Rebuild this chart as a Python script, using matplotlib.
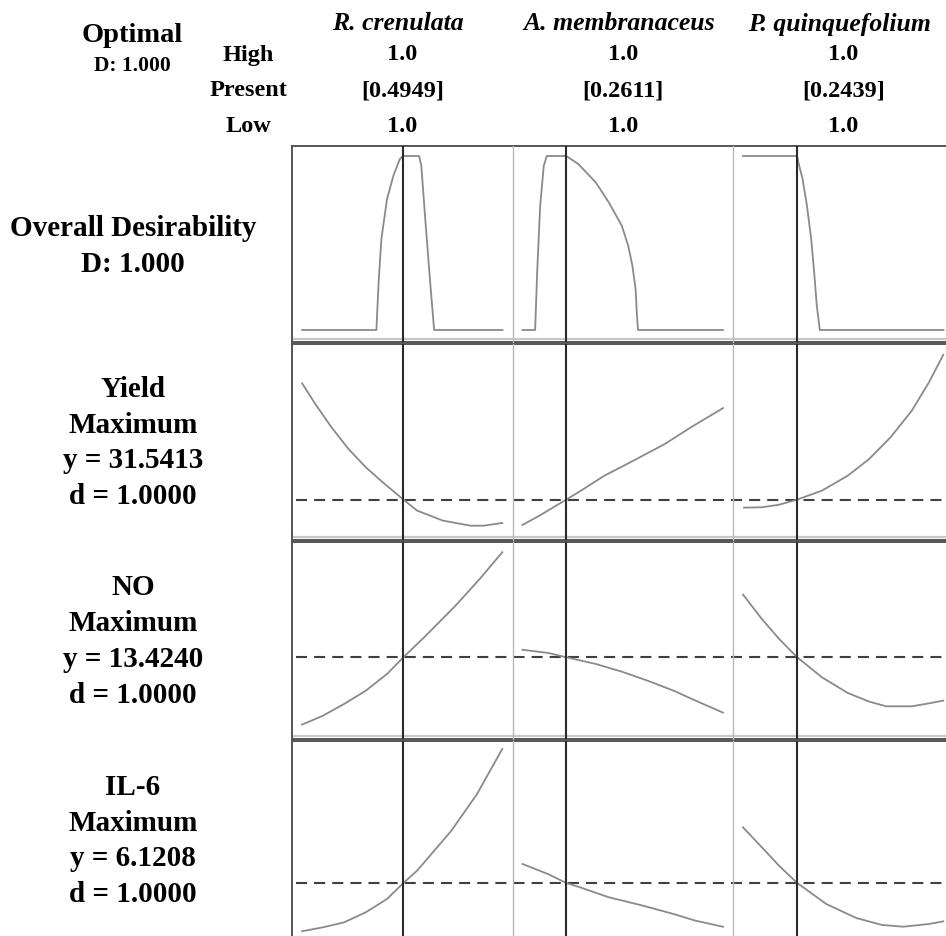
import matplotlib.pyplot as plt

plt.rcParams['font.family'] = ['Liberation Serif', 'DejaVu Serif']

# factors (columns) and their settings
factors = ['R. crenulata', 'A. membranaceus', 'P. quinquefolium']
high_labels = ['1.0', '1.0', '1.0']
present_labels = ['[0.4949]', '[0.2611]', '[0.2439]']
low_labels = ['1.0', '1.0', '1.0']
present_pos = [0.506, 0.218, 0.27]   # coded position of the current setting

# responses (rows 2-4)
responses = ['Yield', 'NO', 'IL-6']
goals = ['Maximum', 'Maximum', 'Maximum']
y_values = ['31.5413', '13.4240', '6.1208']
d_values = ['1.0000', '1.0000', '1.0000']
present_level = [0.206, 0.415, 0.283]   # response at current setting (scaled)

# overall desirability curves
des_x = [[0, 0.371, 0.382, 0.396, 0.424, 0.456, 0.488, 0.503, 0.584, 0.595, 0.616, 0.638, 0.659, 1.0],
         [0, 0.063, 0.073, 0.088, 0.106, 0.121, 0.218, 0.278, 0.365, 0.43, 0.495, 0.527, 0.548, 0.564, 0.570, 0.576, 1.0],
         [0, 0.27, 0.276, 0.297, 0.319, 0.34, 0.355, 0.368, 0.383, 1.0]]
des_y = [[0, 0, 0.274, 0.523, 0.753, 0.887, 0.983, 1, 1, 0.944, 0.62, 0.293, 0, 0],
         [0, 0, 0.331, 0.714, 0.944, 1, 1, 0.954, 0.849, 0.734, 0.6, 0.485, 0.37, 0.236, 0.1, 0, 0],
         [1, 1, 0.964, 0.868, 0.714, 0.523, 0.331, 0.14, 0, 0]]

# response curves (scaled to panel height)
yield_x = [[0.001, 0.061, 0.147, 0.232, 0.318, 0.403, 0.506, 0.574, 0.702, 0.841, 0.905, 0.999],
           [0, 0.084, 0.218, 0.278, 0.408, 0.537, 0.710, 0.840, 1.0],
           [0.005, 0.094, 0.18, 0.27, 0.394, 0.522, 0.629, 0.736, 0.842, 0.928, 0.999]]
yield_y = [[0.799, 0.702, 0.575, 0.464, 0.371, 0.294, 0.206, 0.150, 0.099, 0.073, 0.073, 0.087],
           [0.077, 0.124, 0.206, 0.243, 0.328, 0.396, 0.490, 0.575, 0.673],
           [0.165, 0.167, 0.18, 0.206, 0.252, 0.328, 0.413, 0.524, 0.66, 0.805, 0.945]]

no_x = [[0, 0.104, 0.21, 0.318, 0.424, 0.506, 0.617, 0.766, 0.894, 0.999],
        [0, 0.127, 0.218, 0.365, 0.495, 0.624, 0.754, 0.883, 1.0],
        [0, 0.094, 0.18, 0.27, 0.394, 0.522, 0.629, 0.714, 0.842, 0.928, 0.999]]
no_y = [[0.073, 0.118, 0.178, 0.245, 0.33, 0.415, 0.524, 0.677, 0.821, 0.948],
        [0.453, 0.437, 0.415, 0.381, 0.342, 0.296, 0.245, 0.186, 0.134],
        [0.733, 0.609, 0.508, 0.415, 0.313, 0.234, 0.19, 0.166, 0.166, 0.181, 0.195]]

il6_x = [[0, 0.104, 0.21, 0.318, 0.424, 0.506, 0.574, 0.745, 0.873, 0.999],
         [0, 0.127, 0.218, 0.278, 0.43, 0.602, 0.754, 0.861, 1.0],
         [0, 0.094, 0.18, 0.27, 0.415, 0.565, 0.693, 0.8, 0.928, 0.999]]
il6_y = [[0.039, 0.059, 0.084, 0.135, 0.202, 0.283, 0.345, 0.547, 0.732, 0.96],
         [0.379, 0.328, 0.283, 0.264, 0.211, 0.168, 0.126, 0.093, 0.062],
         [0.564, 0.463, 0.37, 0.283, 0.177, 0.106, 0.071, 0.062, 0.076, 0.089]]

W, H = 946, 937
fig = plt.figure(figsize=(W / 100, H / 100), dpi=100)


def px_axes(x0, y0, w, h):
    return fig.add_axes([x0 / W, 1 - (y0 + h) / H, w / W, h / H])


def px_text(x, y, s, **kw):
    fig.text(x / W, 1 - y / H, s, ha='center', va='center', fontweight='bold', **kw)


left = 292
col_w = 220.5
row_tops = [147, 345, 543, 742]
row_bots = [343, 541, 740, 940]

curve_x = [des_x, yield_x, no_x, il6_x]
curve_y = [des_y, yield_y, no_y, il6_y]

for r in range(4):
    top, bot = row_tops[r], row_bots[r]
    h = bot - top
    frame = px_axes(left, top, 3 * col_w, h)
    frame.set_xlim(0, 1)
    frame.set_ylim(0, 1)
    frame.set_xticks([])
    frame.set_yticks([])
    for sp in frame.spines.values():
        sp.set_color('#555555')
        sp.set_linewidth(1.4)
    # light inner line near the bottom (last row is cut off by the image edge)
    if r < 3:
        frame.axhline(3 / h, color='#c8c8c8', lw=1.6, zorder=1)
    if r > 0:
        frame.axhline(present_level[r - 1], xmin=0.006, xmax=1, color='#404040',
                      lw=1.5, ls=(0, (5.3, 3.4)), zorder=3)

    for c in range(3):
        ax = px_axes(left + c * col_w, top, col_w, h)
        ax.patch.set_alpha(0)
        ax.set_xlim(-0.05, 1.05)
        if r == 0:
            ax.set_ylim(-(bot - 331) / 174, 1 + (157 - top) / 174)
        else:
            ax.set_ylim(0, 1)
        ax.set_xticks([])
        ax.set_yticks([])
        for name, sp in ax.spines.items():
            sp.set_visible(name == 'left' and c > 0)
        ax.spines['left'].set_color('#b8b8b8')
        ax.spines['left'].set_linewidth(1.0)
        ax.plot(curve_x[r][c], curve_y[r][c], color='#8a8a8a', lw=1.3, zorder=2)
        ax.axvline(present_pos[c], color='#2a2a2a', lw=1.5, zorder=4)

# header block
px_text(132, 35, 'Optimal', fontsize=20.5)
px_text(132, 66, 'D: 1.000', fontsize=15.5)
px_text(248, 55, 'High', fontsize=17.5)
px_text(248, 91, 'Present', fontsize=17.5)
px_text(248, 127, 'Low', fontsize=17.5)
for c in range(3):
    cx = left + (c + 0.5) * col_w
    px_text(cx - 4, 24, factors[c], fontsize=18.5, style='italic')
    px_text(cx, 55, high_labels[c], fontsize=17.5)
    px_text(cx, 91, present_labels[c], fontsize=17.5)
    px_text(cx, 127, low_labels[c], fontsize=17.5)

# row labels
px_text(133, 229, 'Overall Desirability', fontsize=21)
px_text(133, 265, 'D: 1.000', fontsize=21)
for r in range(3):
    cy = (row_tops[r + 1] + row_bots[r + 1]) / 2
    lines = [responses[r], goals[r], 'y = ' + y_values[r], 'd = ' + d_values[r]]
    for i, s in enumerate(lines):
        px_text(133, cy + (i - 1.5) * 35.8, s, fontsize=21)

fig.savefig('out.png', dpi=100, facecolor='white')
